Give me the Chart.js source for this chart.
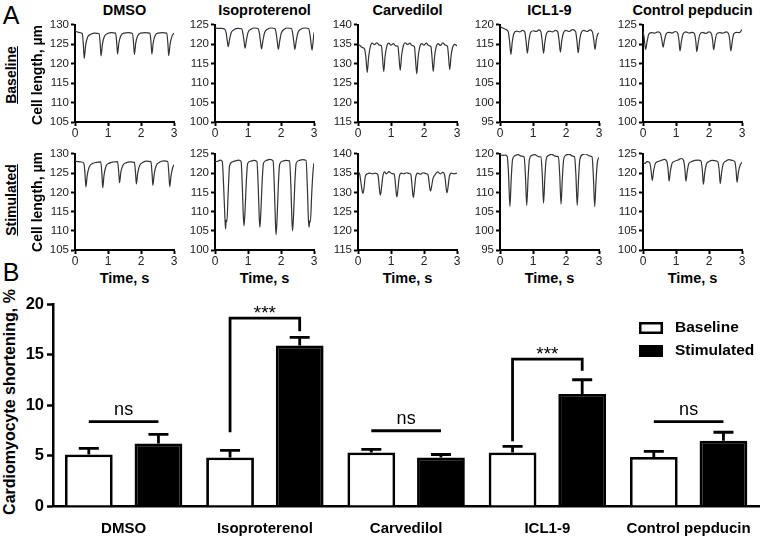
<!DOCTYPE html>
<html>
<head>
<meta charset="utf-8">
<script src="https://cdn.jsdelivr.net/npm/chart.js@4.4.0/dist/chart.umd.min.js"></script>
<style>
  body { margin: 0; background: #fff; font-family: "Liberation Sans", Arial, sans-serif; }
  #fig { position: relative; width: 765px; height: 537px; overflow: hidden; }
  #fig canvas { position: absolute; }
  .lbl { position: absolute; white-space: nowrap; line-height: 1; color: #000; }
</style>
</head>
<body>
<div id="fig"></div>
<script>
// ---- data ----
const groups = ["DMSO", "Isoproterenol", "Carvedilol", "ICL1-9", "Control pepducin"];

// panel B: shortening (%), mean and SEM
const baselineMean = [5.1, 4.8, 5.3, 5.3, 4.85];
const baselineSem = [0.6, 0.7, 0.3, 0.6, 0.55];
const stimMean = [6.2, 15.9, 4.8, 11.1, 6.45];
const stimSem = [0.9, 0.8, 0.3, 1.4, 0.85];
const yTicksB = [0, 5, 10, 15, 20];

// significance marks: text, bracket level, bracket feet (for ***)
const sigText = ["ns", "***", "ns", "***", "ns"];
const sigLevel = [8.35, 18.6, 7.45, 14.55, 8.35];
const sigFootL = [null, 7.3, null, 6.4, null];
const sigFootR = [null, 17.3, null, 13.4, null];

// panel A: cell length traces [time s, length um]
const dmsoBase = [[0,128.4],[0.1,128.1],[0.22,127.8],[0.255,124.6],[0.28,121.4],[0.32,124.6],[0.38,126.8],[0.48,127.6],[0.6,127.9],
  [0.73,127.7],[0.765,125.0],[0.79,122.0],[0.83,125.0],[0.89,127.0],[0.99,127.8],[1.11,128.0],
  [1.23,127.9],[1.265,125.3],[1.29,122.5],[1.33,125.4],[1.39,127.2],[1.49,127.9],[1.61,128.0],
  [1.74,127.8],[1.775,125.2],[1.8,122.4],[1.84,125.3],[1.9,127.2],[2.0,127.9],[2.12,128.0],
  [2.27,127.9],[2.305,125.3],[2.33,122.5],[2.37,125.4],[2.43,127.3],[2.53,127.9],[2.65,128.0],
  [2.78,127.9],[2.815,125.1],[2.84,122.1],[2.88,125.0],[2.94,127.1],[3.0,127.9]];
const dmsoStim = [[0,128.1],[0.1,128.0],[0.2,127.9],[0.27,127.5],[0.305,124.6],[0.33,121.4],[0.37,124.4],[0.43,126.6],[0.53,127.5],[0.65,127.8],
  [0.78,127.9],[0.815,124.8],[0.84,121.2],[0.88,124.5],[0.94,126.8],[1.04,127.6],[1.16,127.9],
  [1.29,128.0],[1.325,125.3],[1.35,122.5],[1.39,125.3],[1.45,127.0],[1.55,127.7],[1.67,127.9],
  [1.8,127.8],[1.835,125.0],[1.86,122.2],[1.9,125.0],[1.96,127.0],[2.06,127.8],[2.18,128.1],
  [2.3,128.0],[2.335,124.9],[2.36,121.8],[2.4,124.8],[2.46,126.9],[2.56,127.8],[2.68,128.2],
  [2.81,128.0],[2.845,124.8],[2.87,121.5],[2.91,124.3],[2.96,126.4],[3.0,127.2]];
const isoBase = [[0,124.2],[0.1,124.1],[0.2,124.1],[0.3,123.9],[0.34,122.8],[0.37,121.0],[0.4,119.4],[0.44,121.2],[0.49,123.0],[0.58,123.8],[0.7,124.1],
  [0.81,124.0],[0.85,122.6],[0.88,120.8],[0.91,119.0],[0.95,121.0],[1.0,123.0],[1.09,123.9],[1.2,124.2],
  [1.31,124.0],[1.35,122.6],[1.38,120.6],[1.41,118.8],[1.45,120.8],[1.5,122.9],[1.59,123.9],[1.7,124.2],
  [1.82,124.0],[1.86,122.5],[1.89,120.5],[1.92,118.7],[1.96,120.8],[2.01,122.9],[2.1,123.9],[2.2,124.2],
  [2.32,124.0],[2.36,122.5],[2.39,120.5],[2.42,118.7],[2.46,120.8],[2.51,122.9],[2.6,123.9],[2.72,124.2],
  [2.84,124.0],[2.88,122.4],[2.91,120.3],[2.94,118.5],[2.97,120.5],[3.0,123.0]];
const isoStim = [[0,123.0],[0.08,123.1],[0.16,123.4],[0.22,123.0],[0.26,117.0],[0.3,108.5],[0.32,105.5],[0.34,107.8],[0.36,107.4],[0.4,115.0],[0.44,121.8],[0.52,122.9],[0.62,123.2],[0.72,123.4],
  [0.79,123.0],[0.83,116.0],[0.86,108.5],[0.88,106.3],[0.91,110.0],[0.95,118.0],[0.99,122.5],[1.08,123.1],[1.18,123.3],
  [1.27,123.0],[1.31,116.5],[1.34,108.5],[1.36,105.9],[1.39,110.0],[1.43,118.0],[1.47,122.6],[1.56,123.3],[1.66,123.6],
  [1.76,123.2],[1.8,116.0],[1.83,107.5],[1.85,104.0],[1.88,108.0],[1.92,117.0],[1.96,122.3],[2.05,123.1],[2.15,123.3],
  [2.26,123.2],[2.3,116.5],[2.33,108.0],[2.35,105.0],[2.38,109.0],[2.42,117.5],[2.46,122.6],[2.55,123.3],[2.65,123.5],
  [2.76,123.3],[2.8,116.0],[2.83,108.0],[2.85,105.9],[2.87,107.6],[2.89,107.3],[2.93,114.5],[2.97,120.5],[3.0,122.6]];
const carvBase = [[0,135.0],[0.06,134.7],[0.12,134.2],[0.2,133.8],[0.24,131.5],[0.28,127.8],[0.32,131.5],[0.37,134.3],[0.43,135.3],[0.5,134.9],[0.57,135.4],[0.64,134.8],
  [0.71,134.6],[0.74,132.0],[0.78,128.0],[0.82,131.8],[0.87,134.4],[0.93,135.3],[1.0,134.8],[1.07,135.2],[1.14,134.6],
  [1.21,134.5],[1.24,132.0],[1.28,128.3],[1.32,132.0],[1.37,134.5],[1.43,135.4],[1.5,134.9],[1.57,135.3],[1.64,134.7],
  [1.71,134.4],[1.74,131.5],[1.78,127.4],[1.82,131.5],[1.87,134.3],[1.93,135.2],[2.0,134.8],[2.07,135.3],[2.14,134.7],
  [2.21,134.4],[2.24,132.0],[2.28,128.0],[2.32,131.8],[2.37,134.4],[2.43,135.2],[2.5,134.7],[2.57,135.4],[2.64,134.8],
  [2.71,134.5],[2.74,132.3],[2.78,128.5],[2.82,132.0],[2.87,134.3],[2.93,135.0],[3.0,134.6]];
const carvStim = [[0,135.3],[0.05,134.8],[0.09,132.5],[0.13,130.2],[0.15,129.7],[0.18,131.0],[0.22,134.0],[0.28,134.8],[0.36,135.0],[0.44,134.8],[0.52,135.0],
  [0.6,134.6],[0.63,132.8],[0.66,130.0],[0.68,129.3],[0.71,131.0],[0.75,134.0],[0.8,135.3],[0.86,134.8],[0.94,135.4],[1.02,134.9],
  [1.1,134.7],[1.13,132.5],[1.16,129.8],[1.18,128.8],[1.21,130.8],[1.25,134.0],[1.31,135.0],[1.39,134.8],[1.47,135.1],[1.55,134.9],
  [1.6,134.7],[1.63,132.5],[1.66,129.5],[1.68,128.7],[1.71,130.8],[1.75,134.0],[1.81,135.0],[1.89,134.7],[1.97,135.1],[2.05,134.9],
  [2.12,134.6],[2.15,133.0],[2.18,130.8],[2.2,130.3],[2.23,131.5],[2.27,133.5],[2.33,134.5],[2.41,135.3],[2.49,134.8],[2.57,135.2],
  [2.62,134.7],[2.65,133.0],[2.68,130.5],[2.7,129.9],[2.73,131.5],[2.77,134.2],[2.83,135.0],[2.91,134.8],[3.0,135.0]];
const iclBase = [[0,119.6],[0.08,119.2],[0.16,118.9],[0.25,118.2],[0.29,115.8],[0.33,112.4],[0.37,115.5],[0.42,117.8],[0.5,118.4],[0.6,118.2],[0.68,118.6],
  [0.75,118.2],[0.79,115.8],[0.83,112.7],[0.87,115.6],[0.92,117.9],[1.0,118.5],[1.1,118.3],[1.18,118.7],
  [1.24,118.2],[1.28,115.8],[1.32,112.7],[1.36,115.6],[1.41,117.8],[1.49,118.4],[1.59,118.2],[1.68,118.6],
  [1.75,118.2],[1.79,116.0],[1.83,113.0],[1.87,115.8],[1.92,117.9],[2.0,118.6],[2.1,118.3],[2.2,118.8],
  [2.29,118.3],[2.33,116.0],[2.37,112.8],[2.41,115.8],[2.46,118.0],[2.54,118.6],[2.64,118.3],[2.73,118.7],
  [2.8,118.2],[2.84,116.3],[2.88,113.7],[2.92,116.2],[2.96,117.6],[3.0,117.9]];
const iclStim = [[0,119.8],[0.08,119.6],[0.16,119.7],[0.22,119.3],[0.26,114.5],[0.3,106.3],[0.34,113.5],[0.38,118.5],[0.45,119.5],[0.55,119.8],[0.65,119.4],
  [0.73,119.2],[0.77,114.5],[0.81,106.6],[0.85,113.5],[0.89,118.5],[0.96,119.6],[1.06,119.8],[1.16,119.3],
  [1.24,119.2],[1.28,114.8],[1.32,107.2],[1.36,114.0],[1.4,118.6],[1.47,119.6],[1.57,119.9],[1.67,119.4],
  [1.77,119.3],[1.81,114.5],[1.85,106.9],[1.89,113.8],[1.93,118.6],[2.0,119.7],[2.1,119.9],[2.2,119.4],
  [2.26,119.2],[2.3,114.5],[2.34,106.6],[2.38,113.5],[2.42,118.6],[2.5,119.8],[2.6,120.0],[2.7,119.5],
  [2.79,119.2],[2.83,114.0],[2.87,106.3],[2.91,113.0],[2.95,117.8],[3.0,119.1]];
const ctrlBase = [[0,123.3],[0.03,122.0],[0.08,118.7],[0.12,120.5],[0.17,122.5],[0.25,123.0],[0.35,122.9],[0.45,123.2],
  [0.53,122.8],[0.57,121.2],[0.61,119.3],[0.65,121.0],[0.7,122.7],[0.78,123.1],[0.88,122.9],[0.98,123.3],
  [1.05,122.9],[1.09,121.0],[1.12,118.3],[1.16,120.5],[1.21,122.6],[1.3,123.2],[1.4,122.9],[1.5,123.1],
  [1.56,122.7],[1.6,120.8],[1.63,118.1],[1.67,120.3],[1.72,122.5],[1.8,123.1],[1.9,122.8],[2.0,123.2],
  [2.07,122.8],[2.11,121.0],[2.14,118.6],[2.18,120.6],[2.23,122.6],[2.32,123.0],[2.42,122.9],[2.52,123.2],
  [2.59,122.8],[2.63,121.0],[2.66,118.3],[2.7,120.5],[2.75,122.7],[2.84,123.1],[2.92,123.0],[3.0,123.8]];
const ctrlStim = [[0,122.8],[0.06,122.5],[0.12,123.0],[0.2,122.8],[0.24,121.0],[0.28,118.1],[0.32,120.5],[0.37,122.4],[0.45,123.0],[0.55,123.3],[0.65,123.6],
  [0.72,123.1],[0.76,121.0],[0.79,117.9],[0.83,120.5],[0.88,122.5],[0.96,123.1],[1.06,123.4],[1.16,123.8],
  [1.23,123.3],[1.27,121.0],[1.3,117.9],[1.34,120.4],[1.39,122.5],[1.47,123.0],[1.57,123.3],[1.67,123.4],
  [1.76,123.1],[1.8,120.5],[1.83,117.1],[1.87,120.0],[1.92,122.3],[2.0,123.0],[2.1,123.3],[2.2,123.2],
  [2.27,122.9],[2.31,120.6],[2.34,117.3],[2.38,120.0],[2.43,122.4],[2.51,123.1],[2.61,123.5],[2.71,123.3],
  [2.78,123.0],[2.82,120.8],[2.85,117.6],[2.89,120.2],[2.94,122.0],[3.0,122.8]];

const baseTraces = [dmsoBase, isoBase, carvBase, iclBase, ctrlBase];
const stimTraces = [dmsoStim, isoStim, carvStim, iclStim, ctrlStim];
const traceYMin = [105, 100, 115, 95, 100];
const traceSpan = 25;
const timeTicks = [0, 1, 2, 3];

// ---- layout ----
const FONT = '"Liberation Sans", Arial, sans-serif';
Chart.defaults.font.family = FONT;
Chart.defaults.color = "#000";

const fig = document.getElementById("fig");
const colLeft = [75, 215, 358, 500, 643];
const rowTop = [24, 153];
const rowH = [98, 97];
const plotW = 99;
const padL = 50, padT = 8, padR = 10, padB = 20;

function addLabel(text, cx, cy, css, rot) {
  const d = document.createElement("div");
  d.className = "lbl";
  d.textContent = text;
  d.style.cssText += css;
  d.style.left = cx + "px";
  d.style.top = cy + "px";
  d.style.transform = "translate(-50%,-50%)" + (rot ? " rotate(-90deg)" : "");
  fig.appendChild(d);
}

function addCanvas(left, top, w, h) {
  const c = document.createElement("canvas");
  c.width = w; c.height = h;
  c.style.left = left + "px"; c.style.top = top + "px";
  fig.appendChild(c);
  return c;
}

function traceChart(canvas, points, yMin) {
  return new Chart(canvas, {
    type: "line",
    data: {
      datasets: [{
        data: points.map(p => ({ x: p[0], y: p[1] })),
        borderColor: "#333",
        borderWidth: 1.2,
        pointRadius: 0,
        cubicInterpolationMode: "monotone",
        fill: false
      }]
    },
    options: {
      responsive: false,
      animation: false,
      events: [],
      layout: { padding: { left: 0, top: padT, right: padR, bottom: 0 } },
      plugins: { legend: { display: false }, tooltip: { enabled: false } },
      scales: {
        x: {
          type: "linear", min: 0, max: 3,
          afterBuildTicks: s => { s.ticks = timeTicks.map(v => ({ value: v })); },
          ticks: { padding: 0, font: { size: 12 }, color: "#222" },
          grid: { drawOnChartArea: false, tickLength: 4, tickWidth: 2, tickColor: "#000" },
          border: { width: 2, color: "#000" },
          afterFit: s => { s.height = padB; }
        },
        y: {
          min: yMin, max: yMin + traceSpan,
          ticks: { stepSize: 5, padding: 2, font: { size: 11.5 }, color: "#222" },
          grid: { drawOnChartArea: false, tickLength: 4, tickWidth: 2, tickColor: "#000" },
          border: { width: 2, color: "#000" },
          afterFit: s => { s.width = padL; }
        }
      }
    }
  });
}

// panel A
groups.forEach((name, i) => {
  const cx = colLeft[i] + plotW / 2;
  addLabel(name, cx, 10, "font-weight:bold;font-size:14.5px;");
  addLabel("Time, s", cx, 278, "font-weight:bold;font-size:14.5px;");
  [baseTraces, stimTraces].forEach((set, r) => {
    const c = addCanvas(colLeft[i] - padL, rowTop[r] - padT, padL + plotW + padR, padT + rowH[r] + padB);
    traceChart(c, set[i], traceYMin[i]);
  });
});
addLabel("A", 11, 15, "font-size:25px;");
addLabel("B", 11, 272, "font-size:25px;");
addLabel("Baseline", 11, 75, "font-weight:bold;font-size:14px;text-decoration:underline;", true);
addLabel("Stimulated", 11, 200, "font-weight:bold;font-size:14px;text-decoration:underline;", true);
addLabel("Cell length, \u00b5m", 37, 75, "font-weight:bold;font-size:14px;", true);
addLabel("Cell length, \u00b5m", 37, 202, "font-weight:bold;font-size:14px;", true);
addLabel("Cardiomyocyte shortening, %", 10, 402, "font-weight:bold;font-size:16px;", true);

// panel B
const barTop = 290, barH = 247;
const barCanvas = addCanvas(0, barTop, 765, barH);

const barMarks = {
  id: "barMarks",
  afterDatasetsDraw(chart) {
    const ctx = chart.ctx, ys = chart.scales.y;
    const base = chart.getDatasetMeta(0).data, stim = chart.getDatasetMeta(1).data;
    ctx.save();
    ctx.strokeStyle = "#000";
    ctx.fillStyle = "#000";
    ctx.lineWidth = 2.8;
    // error bars (upper only)
    [[base, baselineMean, baselineSem], [stim, stimMean, stimSem]].forEach(([bars, m, e]) => {
      bars.forEach((bar, i) => {
        const y0 = ys.getPixelForValue(m[i]);
        const y1 = ys.getPixelForValue(m[i] + e[i]);
        ctx.beginPath();
        ctx.moveTo(bar.x, y0); ctx.lineTo(bar.x, y1);
        ctx.moveTo(bar.x - 10, y1); ctx.lineTo(bar.x + 10, y1);
        ctx.stroke();
      });
    });
    // significance
    ctx.textAlign = "center";
    ctx.textBaseline = "alphabetic";
    sigText.forEach((t, i) => {
      const xl = base[i].x, xr = stim[i].x, yl = ys.getPixelForValue(sigLevel[i]);
      ctx.beginPath();
      if (sigFootL[i] !== null) {
        ctx.moveTo(xl, ys.getPixelForValue(sigFootL[i]));
        ctx.lineTo(xl, yl); ctx.lineTo(xr, yl);
        ctx.lineTo(xr, ys.getPixelForValue(sigFootR[i]));
        ctx.stroke();
        ctx.font = "19px " + FONT;
        ctx.fillText(t, (xl + xr) / 2, yl + 1);
      } else {
        ctx.moveTo(xl, yl); ctx.lineTo(xr, yl);
        ctx.stroke();
        ctx.font = "18px " + FONT;
        ctx.fillText(t, (xl + xr) / 2, yl - 6.5);
      }
    });
    // legend
    const lx = 639, ly = [322 - barTop, 345 - barTop];
    ctx.lineWidth = 2.5;
    ctx.strokeRect(lx + 1.25, ly[0] + 1.25, 21.5, 9.5);
    ctx.fillRect(lx, ly[1], 24, 12);
    ctx.font = "bold 15.5px " + FONT;
    ctx.textAlign = "left";
    ctx.textBaseline = "middle";
    chart.data.datasets.forEach((ds, k) => ctx.fillText(ds.label, 675, ly[k] + 6));
    ctx.restore();
  }
};

new Chart(barCanvas, {
  type: "bar",
  data: {
    labels: groups,
    datasets: [
      { label: "Baseline", data: baselineMean, backgroundColor: "#fff", borderColor: "#000", borderWidth: 2.8 },
      { label: "Stimulated", data: stimMean, backgroundColor: "#000", borderColor: "#000", borderWidth: 2.8 }
    ]
  },
  options: {
    responsive: false,
    animation: false,
    events: [],
    barPercentage: 0.686,
    categoryPercentage: 0.986,
    layout: { padding: { left: 0, top: 304 - barTop, right: 3, bottom: 0 } },
    plugins: { legend: { display: false }, tooltip: { enabled: false } },
    scales: {
      x: {
        grid: { display: false, drawTicks: false },
        border: { display: true, width: 2.5, color: "#000" },
        ticks: { padding: 14, font: { size: 15, weight: "bold" }, color: "#000" },
        afterFit: s => { s.height = 31; }
      },
      y: {
        min: 0, max: 20,
        afterBuildTicks: s => { s.ticks = yTicksB.map(v => ({ value: v })); },
        ticks: { padding: 3, font: { size: 16.5, weight: "bold" }, color: "#000" },
        grid: { drawOnChartArea: false, tickLength: 6, tickWidth: 2.5, tickColor: "#000" },
        border: { width: 2.5, color: "#000" },
        afterFit: s => { s.width = 53; }
      }
    }
  },
  plugins: [barMarks]
});
</script>
</body>
</html>
